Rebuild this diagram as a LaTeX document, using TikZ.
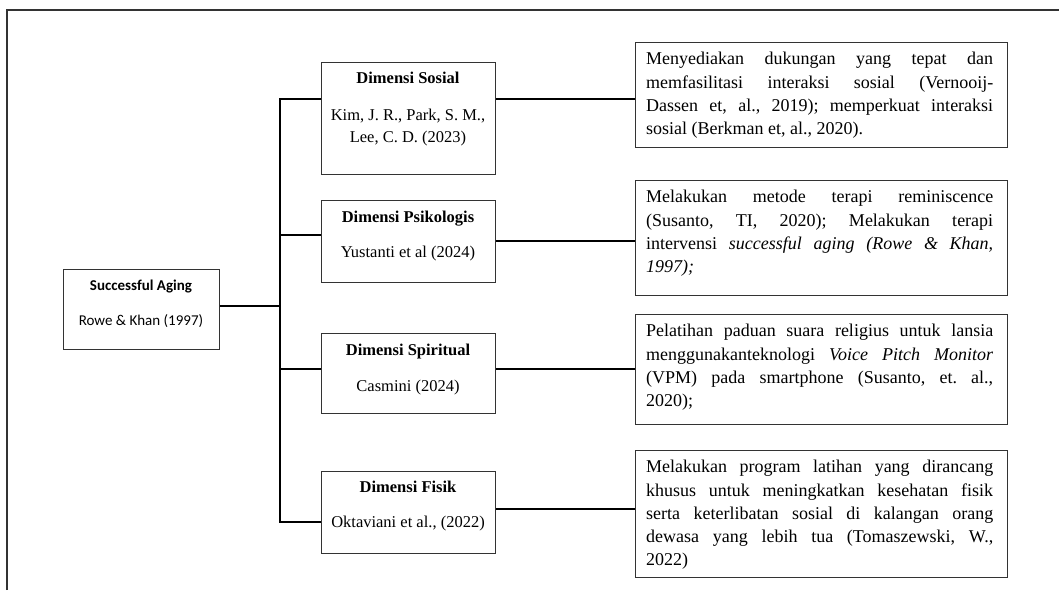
\documentclass[tikz,border=0pt]{standalone}
\usepackage{fontspec}
\setmainfont{Liberation Serif}
\newfontfamily\calibri{Carlito}
\tolerance=10000
\hbadness=10000
\frenchspacing
\begin{document}
\begin{tikzpicture}[x=1pt,y=-1pt,
  box/.style={draw=black!80, line width=1.3pt, inner sep=0pt, anchor=north west},
  conn/.style={draw=black, line width=2.7pt},
  frameline/.style={draw=black!80, line width=1.6pt},
  ttl/.style={anchor=base, inner sep=0pt, font=\fontsize{16.5}{20}\selectfont\bfseries},
  cit/.style={anchor=base, inner sep=0pt, font=\fontsize{16.5}{20}\selectfont},
  satl/.style={anchor=base, inner sep=0pt, font=\calibri\fontsize{15}{18}\selectfont\bfseries},
  sacit/.style={anchor=base, inner sep=0pt, font=\calibri\fontsize{15}{18}\selectfont},
  rtxt/.style={anchor=north west, inner sep=0pt, text width=347pt, align=justify,
    font=\fontsize{18}{23.3}\selectfont}
]
\useasboundingbox (0,0) rectangle (1059,590);

% outer frame (open at right and bottom)
\coordinate (fbl) at (7,590);
\coordinate (ftl) at (7,10);
\coordinate (ftr) at (1059,10);
\draw[frameline] (fbl) -- (ftl) -- (ftr);

% root box
\node[box, minimum width=156pt, minimum height=80pt] (sa) at (63,269) {};
\node[satl] (sat) at (141,290) {Successful Aging};
\node[sacit] (sac) at (141,325) {Rowe \& Khan (1997)};

% dimension boxes
\node[box, minimum width=174pt, minimum height=112pt] (ds) at (321,62) {};
\node[ttl] (dst) at (408,83.5) {Dimensi Sosial};
\node[cit] (dsc1) at (408,120.5) {Kim, J. R., Park, S. M.,};
\node[cit] (dsc2) at (408,142.5) {Lee, C. D. (2023)};

\node[box, minimum width=174pt, minimum height=82pt] (dp) at (321,200) {};
\node[ttl] (dpt) at (408,222.5) {Dimensi Psikologis};
\node[cit] (dpc) at (408,257.5) {Yustanti et al (2024)};

\node[box, minimum width=174pt, minimum height=80pt] (dr) at (321,333) {};
\node[ttl] (drt) at (408,355.5) {Dimensi Spiritual};
\node[cit] (drc) at (408,391.5) {Casmini (2024)};

\node[box, minimum width=174pt, minimum height=82pt] (df) at (321,471) {};
\node[ttl] (dft) at (408,492.5) {Dimensi Fisik};
\node[cit] (dfc) at (408,527.5) {Oktaviani et al., (2022)};

% right boxes
\node[box, minimum width=372pt, minimum height=105pt] (r1) at (635,42) {};
\node[rtxt] (r1t) at (646,48.2) {\strut Menyediakan dukungan yang tepat dan\linebreak
memfasilitasi interaksi sosial (Vernooij-\linebreak
Dassen et, al., 2019); memperkuat interaksi\linebreak
sosial (Berkman et, al., 2020).};

\node[box, minimum width=372pt, minimum height=115pt] (r2) at (635,180) {};
\node[rtxt] (r2t) at (646,186.2) {\strut Melakukan metode terapi reminiscence\linebreak
(Susanto, TI, 2020); Melakukan terapi\linebreak
intervensi \textit{successful aging (Rowe \& Khan,}\linebreak
\textit{1997);}};

\node[box, minimum width=372pt, minimum height=110pt] (r3) at (635,314) {};
\node[rtxt] (r3t) at (646,320.2) {\strut Pelatihan paduan suara religius untuk lansia\linebreak
menggunakanteknologi \textit{Voice Pitch Monitor}\linebreak
(VPM) pada smartphone (Susanto, et. al.,\linebreak
2020);};

\node[box, minimum width=372pt, minimum height=127pt] (r4) at (635,450) {};
\node[rtxt] (r4t) at (646,456.2) {\strut Melakukan program latihan yang dirancang\linebreak
khusus untuk meningkatkan kesehatan fisik\linebreak
serta keterlibatan sosial di kalangan orang\linebreak
dewasa yang lebih tua (Tomaszewski, W.,\linebreak
2022)};

% connectors
\coordinate (j0) at (280,306);
\coordinate (b1) at (280,99);
\coordinate (b2) at (280,235);
\coordinate (b3) at (280,369);
\coordinate (b4) at (280,522);
\draw[conn] (sa.east |- j0) -- (j0);
\draw[conn] (b1 -| ds.west) -- (b1) -- (b4) -- (b4 -| df.west);
\draw[conn] (b2) -- (b2 -| dp.west);
\draw[conn] (b3) -- (b3 -| dr.west);

\coordinate (c1) at (560,99);
\coordinate (c2) at (560,241);
\coordinate (c3) at (560,369);
\coordinate (c4) at (560,509);
\draw[conn] (ds.east |- c1) -- (r1.west |- c1);
\draw[conn] (dp.east |- c2) -- (r2.west |- c2);
\draw[conn] (dr.east |- c3) -- (r3.west |- c3);
\draw[conn] (df.east |- c4) -- (r4.west |- c4);
\end{tikzpicture}
\end{document}
